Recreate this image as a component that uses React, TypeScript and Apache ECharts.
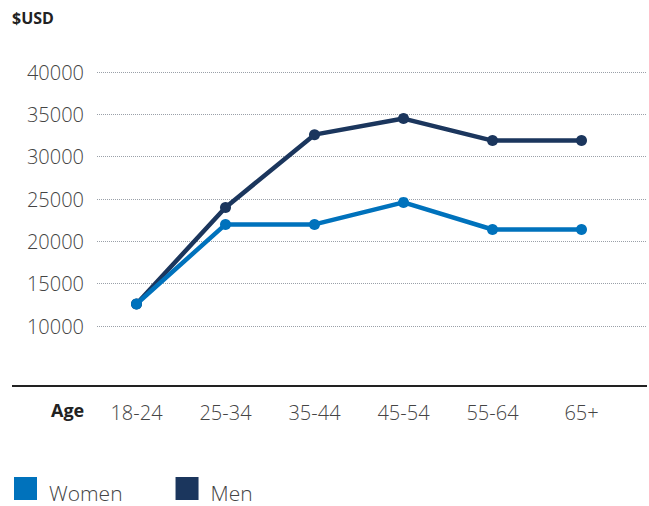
import React, { useEffect, useRef } from "react";
import * as echarts from "echarts";

const categories = ["18-24", "25-34", "35-44", "45-54", "55-64", "65+"];
const women = [12600, 22000, 22000, 24600, 21400, 21400];
const men = [12600, 24000, 32600, 34500, 31900, 31900];
const yMin = 10000;
const yMax = 40000;
const yStep = 5000;

const FONT = "'Open Sans', 'Noto Sans', sans-serif";
const WOMEN_COLOR = "#0072BC";
const MEN_COLOR = "#1B365D";

export default function App() {
  const ref = useRef<HTMLDivElement>(null);
  useEffect(() => {
    document.body.style.margin = "0";
    const chart = echarts.init(ref.current!, null, { renderer: "svg" });
    chart.setOption({
      animation: false,
      textStyle: { fontFamily: FONT },
      grid: [
        { left: 92, right: 23, top: 72, height: 254 },
        { left: 97, right: 3, top: 72, height: 254 },
      ],
      xAxis: [
        {
          type: "category",
          gridIndex: 0,
          data: categories,
          boundaryGap: true,
          offset: 60,
          axisLine: { show: false },
          axisTick: { show: false },
          axisLabel: { color: "#444", fontSize: 20, fontWeight: 300, margin: 16, fontFamily: FONT },
        },
        {
          type: "category",
          gridIndex: 1,
          data: categories,
          show: false,
        },
      ],
      yAxis: [
        {
          type: "value",
          gridIndex: 0,
          min: yMin,
          max: yMax,
          interval: yStep,
          show: false,
          splitLine: { show: false },
        },
        {
          type: "value",
          gridIndex: 1,
          min: yMin,
          max: yMax,
          interval: yStep,
          axisLine: { show: false },
          axisTick: { show: false },
          axisLabel: {
            color: "#444",
            fontSize: 20,
            fontWeight: 300,
            margin: 13,
            fontFamily: FONT,
            formatter: (v: number) => String(v),
          },
          splitLine: { lineStyle: { color: "#9aa0a8", type: [1, 1], width: 1 } },
        },
      ],
      legend: {
        left: 14,
        top: 477,
        padding: 0,
        icon: "rect",
        itemWidth: 23,
        itemHeight: 23,
        itemGap: 53,
        formatter: "{t|{name}}",
        textStyle: {
          color: "#444",
          fontSize: 21,
          fontWeight: 300,
          fontFamily: FONT,
          rich: {
            t: {
              color: "#444",
              fontSize: 21,
              fontWeight: 300,
              fontFamily: FONT,
              padding: [9, 0, 0, 7],
            },
          },
        },
        data: ["Women", "Men"],
      },
      graphic: [
        {
          type: "line",
          shape: { x1: 12, y1: 386, x2: 647, y2: 386 },
          style: { stroke: "#222", lineWidth: 2 },
        },
        {
          type: "text",
          left: 12,
          top: 10,
          style: { text: "$USD", font: `bold 16px ${FONT}`, fill: "#222" },
        },
        {
          type: "text",
          left: 51,
          top: 401,
          style: { text: "Age", font: `bold 18px ${FONT}`, fill: "#222" },
        },
      ],
      series: [
        {
          name: "Women",
          type: "line",
          xAxisIndex: 0,
          yAxisIndex: 0,
          data: women,
          color: WOMEN_COLOR,
          lineStyle: { width: 4.5, color: WOMEN_COLOR },
          symbol: "circle",
          symbolSize: 11,
          itemStyle: { color: WOMEN_COLOR },
          z: 3,
        },
        {
          name: "Men",
          type: "line",
          xAxisIndex: 0,
          yAxisIndex: 0,
          data: men,
          color: MEN_COLOR,
          lineStyle: { width: 4.5, color: MEN_COLOR },
          symbol: "circle",
          symbolSize: 11,
          itemStyle: { color: MEN_COLOR },
          z: 2,
        },
      ],
    });
    return () => chart.dispose();
  }, []);
  return <div ref={ref} style={{ width: 649, height: 506 }} />;
}
